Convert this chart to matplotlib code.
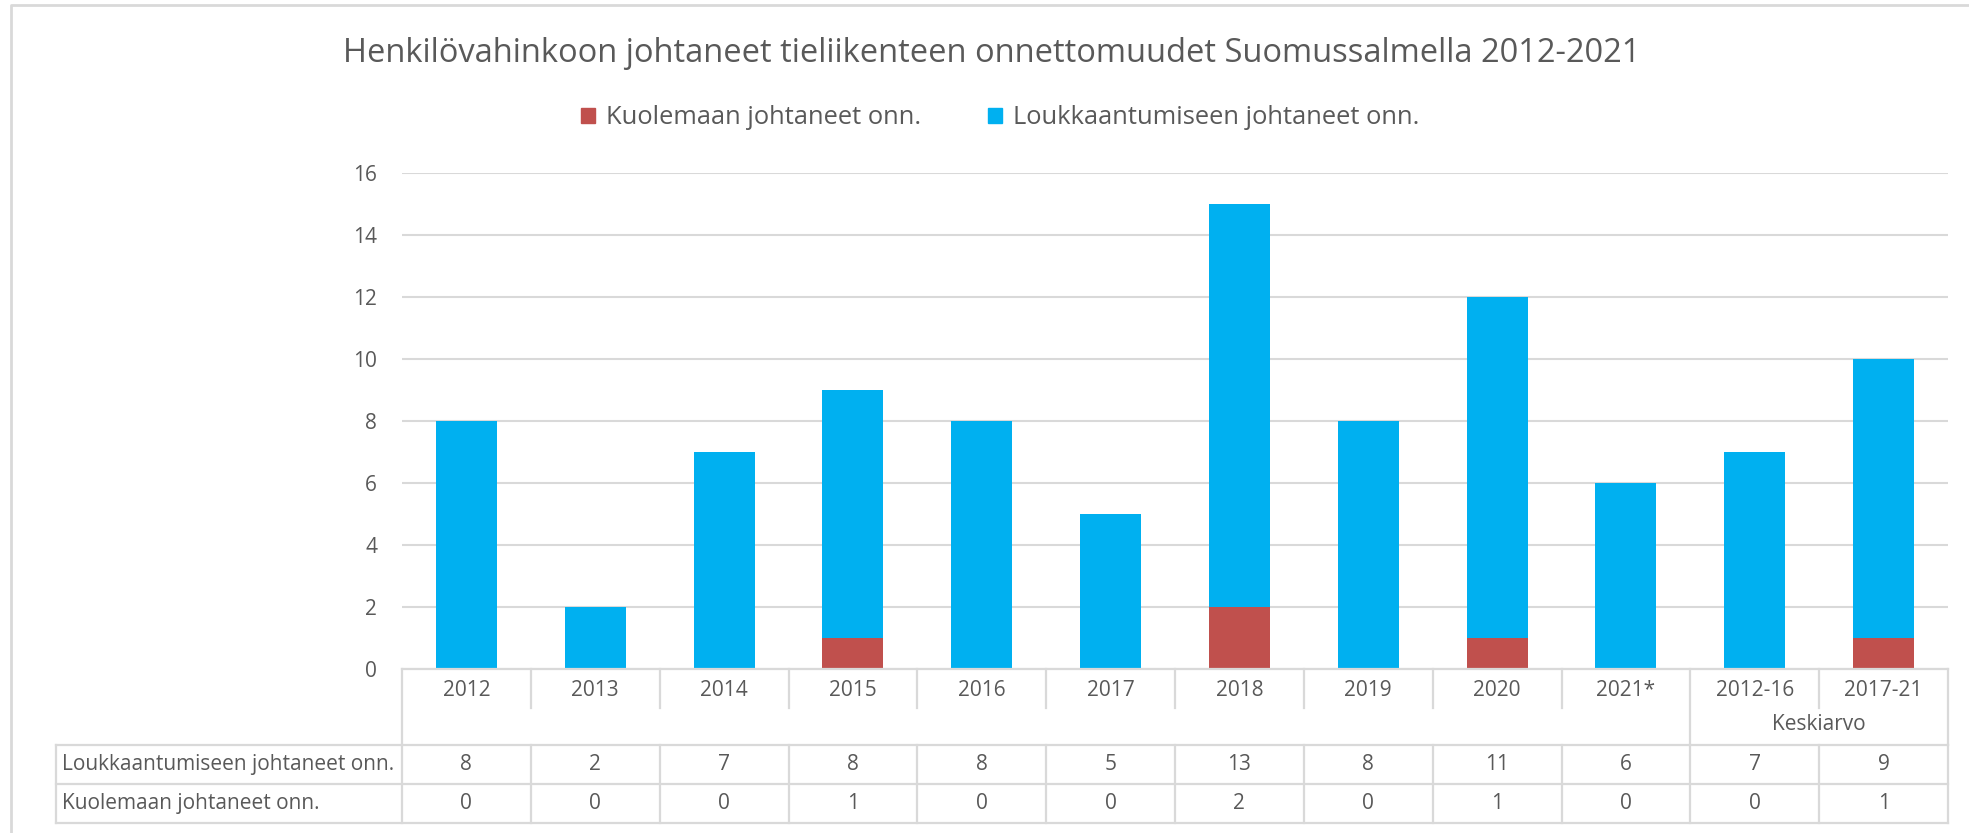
import matplotlib
matplotlib.use("Agg")
import matplotlib.pyplot as plt
from matplotlib.lines import Line2D
from matplotlib.patches import Patch
from matplotlib.transforms import blended_transform_factory
import numpy as np

# data
categories = ['2012', '2013', '2014', '2015', '2016', '2017', '2018', '2019',
              '2020', '2021*', '2012-16', '2017-21']
injury = [8, 2, 7, 8, 8, 5, 13, 8, 11, 6, 7, 9]
fatal = [0, 0, 0, 1, 0, 0, 2, 0, 1, 0, 0, 1]
injury_label = 'Loukkaantumiseen johtaneet onn.'
fatal_label = 'Kuolemaan johtaneet onn.'
title = 'Henkilövahinkoon johtaneet tieliikenteen onnettomuudet Suomussalmella 2012-2021'
group_label = 'Keskiarvo'

blue = '#00B0F0'
red = '#C0504D'
textc = '#595959'
linec = '#D9D9D9'

plt.rcParams['font.family'] = ['Open Sans', 'DejaVu Sans']

W, H = 1969, 833


def fx(px):
    return px / W


def fy(py):
    return 1 - py / H


fig = plt.figure(figsize=(W / 100, H / 100), dpi=100)
ax = fig.add_axes([fx(402), fy(669), fx(1948) - fx(402), fy(172.7) - fy(669)])

x = np.arange(len(categories))
ax.bar(x, fatal, width=0.474, color=red, zorder=3)
ax.bar(x, injury, bottom=fatal, width=0.474, color=blue, zorder=3)
ax.set_xlim(-0.5, len(categories) - 0.5)
ax.set_ylim(0, 16)
ax.set_yticks(range(0, 17, 2))
ax.grid(axis='y', color=linec, lw=1.5, zorder=0)
ax.set_axisbelow(True)
ax.tick_params(axis='y', length=0, pad=18, labelsize=15, labelcolor=textc)
ax.set_xticks(x, categories)
ax.tick_params(axis='x', length=0, pad=8, labelsize=15, labelcolor=textc)
for s in ax.spines.values():
    s.set_visible(False)

# data table under the axis
tr = blended_transform_factory(ax.transData, fig.transFigure)


def hline(x0, x1, py):
    fig.add_artist(Line2D([fx(x0), fx(x1)], [fy(py), fy(py)], transform=fig.transFigure,
                          color=linec, lw=1.6))


def vline(xd, y0, y1):
    fig.add_artist(Line2D([xd, xd], [fy(y0), fy(y1)], transform=tr, color=linec, lw=1.6))


hline(402, 1948, 669)
for py in (745, 784, 823):
    hline(56, 1948, py)
fig.add_artist(Line2D([fx(56), fx(56)], [fy(745), fy(823)], transform=fig.transFigure,
                      color=linec, lw=1.6))
n = len(categories)
for i in range(n + 1):
    xd = i - 0.5
    if i in (0, 10, n):
        vline(xd, 669, 745)
    else:
        vline(xd, 669, 708)
    vline(xd, 745, 823)

fig.text(10.5, fy(725), group_label, transform=tr, ha='center', va='center',
         fontsize=15, color=textc)

fig.text(fx(62), fy(764.5), injury_label, ha='left', va='center', fontsize=15, color=textc)
fig.text(fx(62), fy(803.5), fatal_label, ha='left', va='center', fontsize=15, color=textc)
for i in range(n):
    fig.text(x[i], fy(764.5), str(injury[i]), transform=tr, ha='center', va='center',
             fontsize=15, color=textc)
    fig.text(x[i], fy(803.5), str(fatal[i]), transform=tr, ha='center', va='center',
             fontsize=15, color=textc)

# title and legend
fig.text(fx(992), fy(53), title, ha='center', va='center', fontsize=23.5, color=textc)
fig.legend(handles=[Patch(color=red, label=fatal_label), Patch(color=blue, label=injury_label)],
           loc='center', bbox_to_anchor=(fx(1000), fy(118)), ncol=2, frameon=False,
           fontsize=18.4, handlelength=0.55, handleheight=0.55, handletextpad=0.43,
           columnspacing=2.6, labelcolor=textc)

# chart frame
fig.add_artist(Line2D([fx(11), fx(11), 1], [fy(833), fy(5), fy(5)], transform=fig.transFigure,
                      color=linec, lw=2))

fig.savefig('out.png', dpi=100)
